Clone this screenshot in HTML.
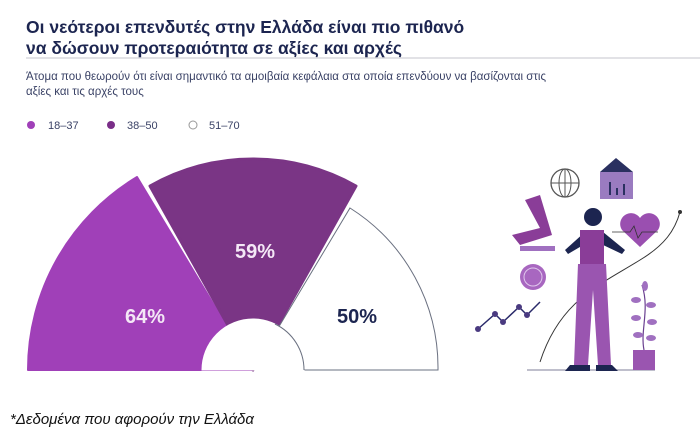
<!DOCTYPE html>
<html><head><meta charset="utf-8"><style>
body{margin:0;background:#fff;width:700px;height:442px;overflow:hidden;font-family:"Liberation Sans",sans-serif}
</style></head><body>
<svg width="700" height="442" viewBox="0 0 700 442" xmlns="http://www.w3.org/2000/svg">
<g font-family="Liberation Sans, sans-serif">
<text x="26" y="33" font-size="17.5" font-weight="bold" fill="#1c2550">Οι νεότεροι επενδυτές στην Ελλάδα είναι πιο πιθανό</text>
<text x="26" y="54" font-size="17.5" font-weight="bold" fill="#1c2550">να δώσουν προτεραιότητα σε αξίες και αρχές</text>
<line x1="26" y1="58" x2="700" y2="58" stroke="#d8d8de" stroke-width="1.5"/>
<text x="26" y="80" font-size="11.5" fill="#3a4266">Άτομα που θεωρούν ότι είναι σημαντικό τα αμοιβαία κεφάλαια στα οποία επενδύουν να βασίζονται στις</text>
<text x="26" y="95" font-size="11.5" fill="#3a4266">αξίες και τις αρχές τους</text>
<circle cx="31" cy="125" r="4" fill="#a040b8"/>
<text x="48" y="129" font-size="11" fill="#3a4266">18–37</text>
<circle cx="111" cy="125" r="4" fill="#7a2e88"/>
<text x="127" y="129" font-size="11" fill="#3a4266">38–50</text>
<circle cx="193" cy="125" r="4" fill="#fff" stroke="#999" stroke-width="1"/>
<text x="209" y="129" font-size="11" fill="#3a4266">51–70</text>

<!-- gauge center 253,370 -->
<path d="M28,370 A225,225 0 0 1 137,177 L253,370 Z" fill="#a040b8" stroke="#a040b8" stroke-width="2" stroke-linejoin="round"/>
<path d="M150,186 A210,210 0 0 1 356,186 L253,370 Z" fill="#7a3585" stroke="#7a3585" stroke-width="3" stroke-linejoin="round"/>
<path d="M350,208 A189,189 0 0 1 438,370 L253,370 Z" fill="#fff" stroke="#6a7080" stroke-width="1"/>
<path d="M202,370 A51,51 0 0 1 304,370 Z" fill="#fff" stroke="#fff"/>
<path d="M275,324 A51,51 0 0 1 304,370" fill="none" stroke="#6a7080" stroke-width="1"/>
<text x="145" y="323" font-size="20" font-weight="bold" fill="#f4e8f6" text-anchor="middle">64%</text>
<text x="255" y="258" font-size="20" font-weight="bold" fill="#f4e8f6" text-anchor="middle">59%</text>
<text x="357" y="323" font-size="20" font-weight="bold" fill="#1c2550" text-anchor="middle">50%</text>

<!-- illustration -->
<line x1="527" y1="370" x2="655" y2="370" stroke="#aab" stroke-width="1.5"/>
<path d="M540,362 C560,300 600,285 640,260 C665,245 675,230 680,212" fill="none" stroke="#333" stroke-width="1"/>
<circle cx="680" cy="212" r="2" fill="#333"/>
<polyline points="478,329 495,314 503,322 519,307 527,315 540,302" fill="none" stroke="#2a2a6a" stroke-width="1.5"/>
<g fill="#4a3a80"><circle cx="478" cy="329" r="3"/><circle cx="495" cy="314" r="3"/><circle cx="503" cy="322" r="3"/><circle cx="519" cy="307" r="3"/><circle cx="527" cy="315" r="3"/></g>
<circle cx="533" cy="277" r="13" fill="#a867c0"/><circle cx="533" cy="277" r="9" fill="none" stroke="#e0c8ec" stroke-width="1"/>
<circle cx="565" cy="183" r="14" fill="none" stroke="#555" stroke-width="1.3"/>
<ellipse cx="565" cy="183" rx="6" ry="14" fill="none" stroke="#555" stroke-width="1"/>
<line x1="551" y1="183" x2="579" y2="183" stroke="#555"/><line x1="565" y1="169" x2="565" y2="197" stroke="#555"/>
<polygon points="600,172 616,158 633,172" fill="#2a3060"/>
<rect x="600" y="172" width="33" height="27" fill="#9a7bc0"/>
<g stroke="#2a3060" stroke-width="2"><line x1="610" y1="195" x2="610" y2="182"/><line x1="617" y1="195" x2="617" y2="188"/><line x1="624" y1="195" x2="624" y2="184"/></g>
<path d="M640,247 L622,230 A9,9 0 0 1 640,218 A9,9 0 0 1 658,230 Z" fill="#9a4fb0"/>
<path d="M612,232 L630,232 L634,226 L638,238 L642,232 L658,232" fill="none" stroke="#333" stroke-width="0.8"/>
<path d="M525,200 L540,195 L552,235 L520,245 L512,235 L540,228 Z" fill="#8a3d98"/>
<rect x="520" y="246" width="35" height="5" fill="#a070c0"/>
<circle cx="593" cy="217" r="9" fill="#1c2550"/>
<path d="M565,250 L585,232 L603,232 L625,250 L622,254 L601,244 L585,244 L568,254 Z" fill="#1c2550"/>
<rect x="580" y="230" width="24" height="34" fill="#8a3d98"/>
<path d="M578,264 L606,264 L611,365 L598,365 L593,290 L588,365 L574,365 Z" fill="#9a55b0"/>
<path d="M570,365 L590,365 L590,371 L565,371 Z M596,365 L612,365 L618,371 L596,371 Z" fill="#1c2550"/>
<path d="M644,350 C640,330 650,310 642,285" fill="none" stroke="#6a4090" stroke-width="1.2"/>
<g fill="#a070c0"><ellipse cx="636" cy="300" rx="5" ry="3"/><ellipse cx="651" cy="305" rx="5" ry="3"/><ellipse cx="636" cy="318" rx="5" ry="3"/><ellipse cx="652" cy="322" rx="5" ry="3"/><ellipse cx="638" cy="335" rx="5" ry="3"/><ellipse cx="651" cy="338" rx="5" ry="3"/><ellipse cx="645" cy="286" rx="3" ry="5"/></g>
<rect x="633" y="350" width="22" height="20" fill="#9a55b0"/>

<text x="10" y="424" font-size="15" font-style="italic" fill="#111">*Δεδομένα που αφορούν την Ελλάδα</text>
</g>
</svg>
</body></html>
